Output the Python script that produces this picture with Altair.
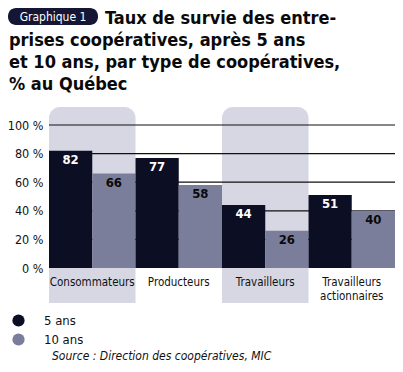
import altair as alt
import pandas as pd

categories = ["Consommateurs", "Producteurs", "Travailleurs", "Travailleurs\nactionnaires"]
series = ["5 ans", "10 ans"]
values_5 = [82, 77, 44, 51]
values_10 = [66, 58, 26, 40]
shaded = ["Consommateurs", "Travailleurs"]
grid_values = [20, 40, 60, 80, 100]
title_first = "Taux de survie des entre-"
title_rest = ["prises coopératives, après 5 ans",
              "et 10 ans, par type de coopératives,", "% au Québec"]
badge = "Graphique 1"
source = "Source : Direction des coopératives, MIC"

FONT = "DejaVu Sans Condensed, Liberation Sans, sans-serif"
C5 = "#0c0e24"
C10 = "#7b7e9a"

rows = []
for c, a, b in zip(categories, values_5, values_10):
    rows.append({"cat": c, "serie": "5 ans", "v": a})
    rows.append({"cat": c, "serie": "10 ans", "v": b})
df = pd.DataFrame(rows)

W, H = 346, 143
xscale = alt.Scale(domain=categories, paddingInner=0, paddingOuter=0)
yscale = alt.Scale(domain=[0, 100])
xaxis = alt.Axis(title=None, domain=False, ticks=False, labelAngle=0,
                 labelFont=FONT, labelFontSize=11.5, labelColor="#111",
                 labelPadding=8, labelLineHeight=14,
                 labelExpr="split(datum.label, '\\n')")
yaxis = alt.Axis(title=None, values=[0, 20, 40, 60, 80, 100],
                 labelExpr="datum.value + ' %'", domain=False,
                 ticks=False, grid=False, labelFont=FONT,
                 labelFontSize=12.5, labelColor="#111", labelPadding=6)
xoff = alt.XOffset("serie:N", sort=series, scale=alt.Scale(paddingInner=0, paddingOuter=0))

bands = alt.Chart(pd.DataFrame({"cat": shaded})).mark_rect(
    color="#d6d7e3", cornerRadiusTopLeft=11, cornerRadiusTopRight=11
).encode(
    x=alt.X("cat:N", scale=xscale, sort=categories, axis=xaxis),
    y=alt.value(-18), y2=alt.value(178)
)

grid = alt.Chart(pd.DataFrame({"v": grid_values})).mark_rule(
    color="#111", strokeWidth=1.2
).encode(y=alt.Y("v:Q", scale=yscale, axis=yaxis))

bars = alt.Chart(df).mark_bar(width={"band": 1}).encode(
    x=alt.X("cat:N", scale=xscale, sort=categories, axis=xaxis),
    xOffset=xoff,
    y=alt.Y("v:Q", scale=yscale, axis=yaxis),
    color=alt.Color("serie:N", sort=series,
                    scale=alt.Scale(domain=series, range=[C5, C10]),
                    legend=alt.Legend(title=None, orient="none", legendX=-37,
                                      legendY=189, symbolType="circle",
                                      symbolSize=150, symbolStrokeWidth=0,
                                      rowPadding=5, labelOffset=19,
                                      labelFont=FONT, labelFontSize=13,
                                      labelColor="#111"))
)

def labels(serie, col):
    return alt.Chart(df).transform_filter(
        alt.datum.serie == serie
    ).mark_text(font=FONT, fontWeight="bold", fontSize=13, baseline="top",
                dy=3, color=col).encode(
        x=alt.X("cat:N", scale=xscale, sort=categories, axis=xaxis),
        xOffset=xoff,
        y=alt.Y("v:Q", scale=yscale, axis=yaxis),
        text="v:Q"
    )

pill = alt.Chart(pd.DataFrame({"t": [badge]})).mark_rect(
    color="#141633", cornerRadius=8
).encode(x=alt.value(-41), x2=alt.value(49), y=alt.value(-117), y2=alt.value(-100))

pill_text = alt.Chart(pd.DataFrame({"t": [badge]})).mark_text(
    font=FONT, fontSize=12, color="white", align="center", baseline="middle"
).encode(x=alt.value(4), y=alt.value(-108), text="t:N")

title1 = alt.Chart(pd.DataFrame({"t": [title_first]})).mark_text(
    font=FONT, fontWeight="bold", fontSize=18, color="#0a0a0a", align="left",
    baseline="alphabetic"
).encode(x=alt.value(56), y=alt.value(-101), text="t:N")

title2 = alt.Chart(pd.DataFrame({"t": [title_rest]})).mark_text(
    font=FONT, fontWeight="bold", fontSize=18, color="#0a0a0a", align="left",
    baseline="alphabetic", lineHeight=22
).encode(x=alt.value(-40), y=alt.value(-79), text="t")

src = alt.Chart(pd.DataFrame({"t": [source]})).mark_text(
    font=FONT, fontStyle="italic", fontSize=12, color="#111", align="left",
    baseline="alphabetic"
).encode(x=alt.value(3), y=alt.value(235), text="t:N")

chart = alt.layer(
    bands, grid, bars, labels("5 ans", "white"), labels("10 ans", "#0a0a0a"),
    pill, pill_text, title1, title2, src
).properties(
    width=W, height=H,
    autosize=alt.AutoSizeParams(type="none"),
    padding={"left": 41, "top": 117, "right": 0, "bottom": 96},
    background="white"
).configure_view(stroke=None)

chart.save("out.html", embed_options={"renderer": "svg", "actions": False})
